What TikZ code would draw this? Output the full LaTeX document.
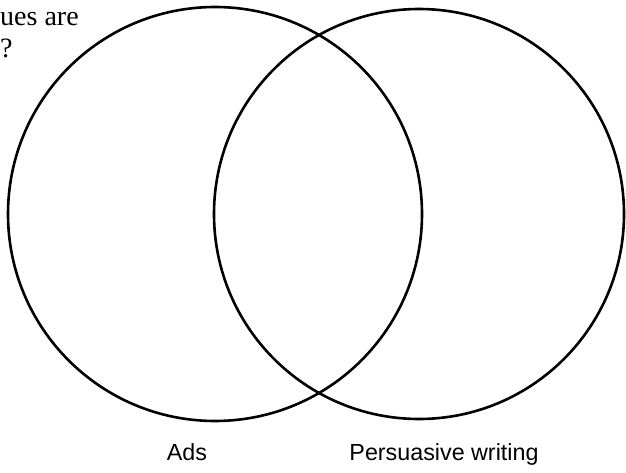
\documentclass[tikz,border=0pt]{standalone}
\usepackage{fontspec}
\newfontfamily\labelfont{Liberation Sans}
\newfontfamily\quesfont{Liberation Serif}
\usetikzlibrary{positioning}
\tikzset{
  set/.style   ={draw,circle,line width=2.6pt,inner sep=0pt},
  setlab/.style={font=\labelfont\fontsize{23.3}{27}\selectfont,inner sep=0pt,anchor=base},
  ques/.style  ={font=\quesfont\fontsize{28}{32}\selectfont,inner sep=0pt,anchor=base west},
}

\begin{document}
\begin{tikzpicture}[x=1pt,y=1pt]
\useasboundingbox (0,0) rectangle (626,472);
\node[set,minimum size=414pt] (ads) at (215,258) {};
\node[set,minimum size=410pt] (pers) at (419,258) {};
\node[setlab] (adslab) at (187,12) {Ads};
\node[setlab] (perslab) at (444,12) {Persuasive writing};
\node[ques] (q1) at (0,446) {ues are};
\node[ques] (q2) at (0,414) {?};
\end{tikzpicture}
\end{document}
